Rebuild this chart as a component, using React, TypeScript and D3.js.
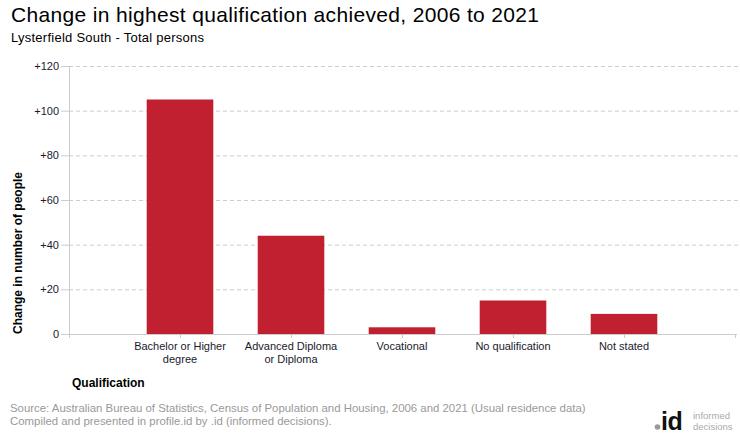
import React from "react";
import * as d3 from "d3";

// data
const categories = [
  "Bachelor or Higher\ndegree",
  "Advanced Diploma\nor Diploma",
  "Vocational",
  "No qualification",
  "Not stated",
];
const changes = [105, 44, 3, 15, 9];
const yTicks = [0, 20, 40, 60, 80, 100, 120];

const W = 740;
const H = 440;
const FONT = "Arial, 'Liberation Sans', sans-serif";
const BAR = "#c0202f";
const GRID = "#cccccc";

export default function App() {
  // highcharts-like "on" tick placement: one empty slot each side
  const x = d3.scaleLinear().domain([-1, categories.length]).range([69, 735]);
  const step = x(1) - x(0);
  const barW = step * 0.6;
  const y = d3.scaleLinear().domain([0, 120]).range([334, 66]);
  const fmt = (d: number) => (d === 0 ? "0" : "+" + d);

  return (
    <div style={{ position: "absolute", left: 0, top: 0, width: W, height: H }}>
      <svg width={W} height={H} style={{ display: "block", fontFamily: FONT }}>
        <rect width={W} height={H} fill="#fff" />
        <text x={11} y={22} fontSize={21} fill="#000" textLength={528} lengthAdjust="spacing">
          Change in highest qualification achieved, 2006 to 2021
        </text>
        <text x={11} y={42} fontSize={13} fill="#000" textLength={193} lengthAdjust="spacing">
          Lysterfield South - Total persons
        </text>

        {/* grid + y axis */}
        {yTicks.map((t) => (
          <g key={t}>
            {t !== 0 && (
              <line
                x1={69}
                x2={738}
                y1={y(t) + 0.5}
                y2={y(t) + 0.5}
                stroke={GRID}
                strokeDasharray="4,3"
              />
            )}
            <line x1={61} x2={69} y1={y(t) + 0.5} y2={y(t) + 0.5} stroke={GRID} />
            <text
              x={59}
              y={y(t) + 4}
              fontSize={11}
              textAnchor="end"
              fill="#1a1a2e"
            >
              {fmt(t)}
            </text>
          </g>
        ))}
        <line x1={69.5} x2={69.5} y1={y(120)} y2={y(0)} stroke={GRID} />

        {/* bars */}
        {changes.map((v, i) => (
          <rect
            key={i}
            x={x(i) - barW / 2}
            y={y(v)}
            width={barW}
            height={y(0) - y(v)}
            fill={BAR}
          />
        ))}

        {/* x axis */}
        <line x1={69} x2={737} y1={y(0) + 0.5} y2={y(0) + 0.5} stroke={GRID} />
        {d3.range(-1, categories.length + 1).map((i) => (
          <line
            key={i}
            x1={Math.round(x(i)) + 0.5}
            x2={Math.round(x(i)) + 0.5}
            y1={y(0)}
            y2={y(0) + 4}
            stroke={GRID}
          />
        ))}
        {categories.map((c, i) => (
          <text key={c} x={x(i)} y={350} fontSize={11} textAnchor="middle" fill="#1a1a2e">
            {c.split("\n").map((line, j) => (
              <tspan key={j} x={x(i)} dy={j === 0 ? 0 : 13}>
                {line}
              </tspan>
            ))}
          </text>
        ))}

        {/* axis titles */}
        <text
          transform={`translate(22,${253}) rotate(-90)`}
          fontSize={12}
          fontWeight="bold"
          textAnchor="middle"
          fill="#000"
        >
          Change in number of people
        </text>
        <text x={72} y={387} fontSize={12} fontWeight="bold" fill="#000">
          Qualification
        </text>

        {/* source */}
        <text x={10} y={412} fontSize={11.4} fill="#999">
          Source: Australian Bureau of Statistics, Census of Population and Housing, 2006 and 2021 (Usual residence data)
        </text>
        <text x={10} y={425} fontSize={11.4} fill="#999">
          Compiled and presented in profile.id by .id (informed decisions).
        </text>

        {/* logo */}
        <circle cx={657.5} cy={427} r={2.8} fill="#999" />
        <text x={661} y={430} fontSize={25} fontWeight="bold" fill="#111" letterSpacing={-0.5}>
          id
        </text>
        <text x={693} y={419} fontSize={9.5} fill="#aaa">
          informed
        </text>
        <text x={693} y={430} fontSize={9.5} fill="#aaa">
          decisions
        </text>
      </svg>
    </div>
  );
}
